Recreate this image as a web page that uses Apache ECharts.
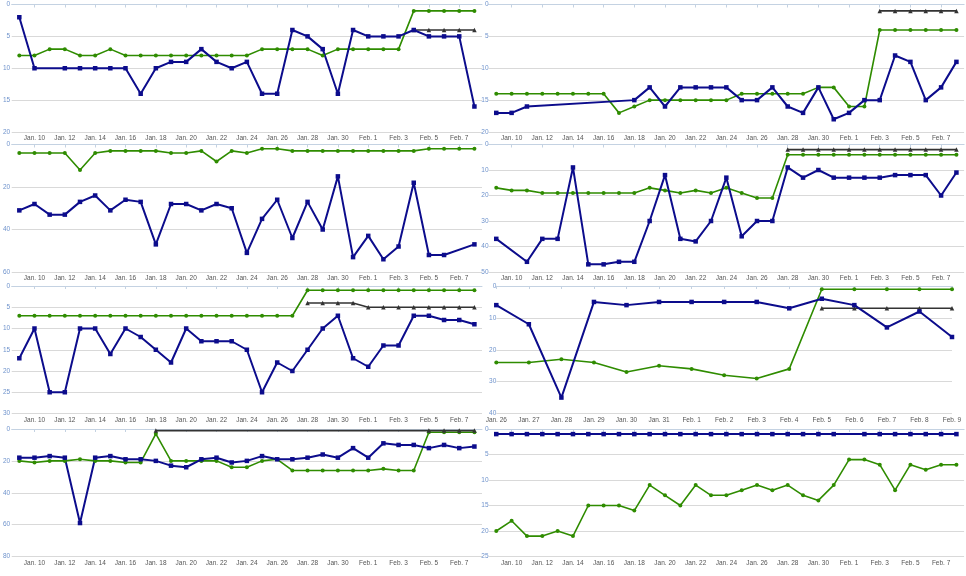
<!DOCTYPE html>
<html>
<head>
<meta charset="utf-8">
<script src="https://cdn.jsdelivr.net/npm/echarts@6/dist/echarts.min.js"></script>
<style>
  html, body { margin: 0; padding: 0; background: #fff; }
  #chart { width: 966px; height: 576px; }
</style>
</head>
<body>
<div id="chart"></div>
<script>
// day labels for the 31-day panels
const days = ['Jan. 9', 'Jan. 10', 'Jan. 11', 'Jan. 12', 'Jan. 13', 'Jan. 14', 'Jan. 15', 'Jan. 16',
    'Jan. 17', 'Jan. 18', 'Jan. 19', 'Jan. 20', 'Jan. 21', 'Jan. 22', 'Jan. 23', 'Jan. 24',
    'Jan. 25', 'Jan. 26', 'Jan. 27', 'Jan. 28', 'Jan. 29', 'Jan. 30', 'Jan. 31', 'Feb. 1',
    'Feb. 2', 'Feb. 3', 'Feb. 4', 'Feb. 5', 'Feb. 6', 'Feb. 7', 'Feb. 8'];
// the short panel (row 3, right)
const shortDays = ['Jan. 26', 'Jan. 27', 'Jan. 28', 'Jan. 29', 'Jan. 30', 'Jan. 31', 'Feb. 1',
    'Feb. 2', 'Feb. 3', 'Feb. 4', 'Feb. 5', 'Feb. 6', 'Feb. 7', 'Feb. 8', 'Feb. 9'];

const n = null;

// panel 1
const p1Blue = [2, 10, n, 10, 10, 10, 10, 10, 14, 10, 9, 9, 7, 9, 10, 9, 14, 14, 4, 5, 7, 14, 4, 5, 5, 5, 4, 5, 5, 5, 16];
const p1Green = [8, 8, 7, 7, 8, 8, 7, 8, 8, 8, 8, 8, 8, 8, 8, 8, 7, 7, 7, 7, 8, 7, 7, 7, 7, 7, 1, 1, 1, 1, 1];
const p1Black = [n, n, n, n, n, n, n, n, n, n, n, n, n, n, n, n, n, n, n, n, n, n, n, n, n, n, 4, 4, 4, 4, 4];

// panel 2
const p2Blue = [17, 17, 16, n, n, n, n, n, n, 15, 13, 16, 13, 13, 13, 13, 15, 15, 13, 16, 17, 13, 18, 17, 15, 15, 8, 9, 15, 13, 9];
const p2Green = [14, 14, 14, 14, 14, 14, 14, 14, 17, 16, 15, 15, 15, 15, 15, 15, 14, 14, 14, 14, 14, 13, 13, 16, 16, 4, 4, 4, 4, 4, 4];
const p2Black = [n, n, n, n, n, n, n, n, n, n, n, n, n, n, n, n, n, n, n, n, n, n, n, n, n, 1, 1, 1, 1, 1, 1];

// panel 3
const p3Blue = [31, 28, 33, 33, 27, 24, 31, 26, 27, 47, 28, 28, 31, 28, 30, 51, 35, 26, 44, 27, 40, 15, 53, 43, 54, 48, 18, 52, 52, n, 47];
const p3Green = [4, 4, 4, 4, 12, 4, 3, 3, 3, 3, 4, 4, 3, 8, 3, 4, 2, 2, 3, 3, 3, 3, 3, 3, 3, 3, 3, 2, 2, 2, 2];

// panel 4
const p4Blue = [37, n, 46, 37, 37, 9, 47, 47, 46, 46, 30, 12, 37, 38, 30, 13, 36, 30, 30, 9, 13, 10, 13, 13, 13, 13, 12, 12, 12, 20, 11];
const p4Green = [17, 18, 18, 19, 19, 19, 19, 19, 19, 19, 17, 18, 19, 18, 19, 17, 19, 21, 21, 4, 4, 4, 4, 4, 4, 4, 4, 4, 4, 4, 4];
const p4Black = [n, n, n, n, n, n, n, n, n, n, n, n, n, n, n, n, n, n, n, 2, 2, 2, 2, 2, 2, 2, 2, 2, 2, 2, 2];

// panel 5
const p5Blue = [17, 10, 25, 25, 10, 10, 16, 10, 12, 15, 18, 10, 13, 13, 13, 15, 25, 18, 20, 15, 10, 7, 17, 19, 14, 14, 7, 7, 8, 8, 9];
const p5Green = [7, 7, 7, 7, 7, 7, 7, 7, 7, 7, 7, 7, 7, 7, 7, 7, 7, 7, 7, 1, 1, 1, 1, 1, 1, 1, 1, 1, 1, 1, 1];
const p5Black = [n, n, n, n, n, n, n, n, n, n, n, n, n, n, n, n, n, n, n, 4, 4, 4, 4, 5, 5, 5, 5, 5, 5, 5, 5];

// panel 6
const p6Blue = [6, 12, 35, 5, 6, 5, 5, 5, 5, 7, 4, 6, 13, 8, 16];
const p6Green = [24, 24, 23, 24, 27, 25, 26, 28, 29, 26, 1, 1, 1, 1, 1];
const p6Black = [n, n, n, n, n, n, n, n, n, n, 7, 7, 7, 7, 7];

// panel 7
const p7Blue = [18, 18, 17, 18, 59, 18, 17, 19, 19, 20, 23, 24, 19, 18, 21, 20, 17, 19, 19, 18, 16, 18, 12, 18, 9, 10, 10, 12, 10, 12, 11];
const p7Green = [20, 21, 20, 20, 19, 20, 20, 21, 21, 3, 20, 20, 20, 20, 24, 24, 20, 19, 26, 26, 26, 26, 26, 26, 25, 26, 26, 2, 2, 2, 2];
const p7Black = [n, n, n, n, n, n, n, n, n, 1, n, n, n, n, n, n, n, n, n, n, n, n, n, n, n, n, n, 1, 1, 1, 1];

// panel 8
const p8Blue = [1, 1, 1, 1, 1, 1, 1, 1, 1, 1, 1, 1, 1, 1, 1, 1, 1, 1, 1, 1, 1, 1, 1, n, 1, 1, 1, 1, 1, 1, 1];
const p8Green = [20, 18, 21, 21, 20, 21, 15, 15, 15, 16, 11, 13, 15, 11, 13, 13, 12, 11, 12, 11, 13, 14, 11, 6, 6, 7, 12, 7, 8, 7, 7];

// y axis max / step per panel
const yMax = [20, 20, 60, 50, 30, 40, 80, 25];
const yStep = [5, 5, 20, 10, 5, 10, 20, 5];

const panels = [
    {cats: days, blue: p1Blue, green: p1Green, black: p1Black},
    {cats: days, blue: p2Blue, green: p2Green, black: p2Black},
    {cats: days, blue: p3Blue, green: p3Green, black: null},
    {cats: days, blue: p4Blue, green: p4Green, black: p4Black},
    {cats: days, blue: p5Blue, green: p5Green, black: p5Black},
    {cats: shortDays, blue: p6Blue, green: p6Green, black: p6Black, short: true},
    {cats: days, blue: p7Blue, green: p7Green, black: p7Black},
    {cats: days, blue: p8Blue, green: p8Green, black: null},
];

const rowTop = [4.5, 144.5, 286, 429];
const rowHeight = 127.5;

const grids = [], xAxes = [], yAxes = [], series = [];

panels.forEach((p, i) => {
    const col = i % 2, row = Math.floor(i / 2);
    let left = col === 0 ? 9 : 488.6;
    let width = col === 0 ? 473 : 475.5;
    if (p.short) { left = 496.3; width = 455.7; }
    grids.push({left, top: rowTop[row], width, height: rowHeight});

    const every = p.short ? 0 : (idx) => idx % 2 === 1;
    xAxes.push({
        type: 'category',
        gridIndex: i,
        data: p.cats,
        boundaryGap: !p.short,
        axisLine: {lineStyle: {color: '#c4d2e2', width: 1}},
        axisTick: {show: true, interval: every, alignWithLabel: true, length: 3, lineStyle: {color: '#c4d2e2'}},
        axisLabel: {interval: every, color: '#555', fontSize: 6.5, margin: 3, fontFamily: 'Liberation Sans'},
        splitLine: {show: false}
    });
    yAxes.push({
        type: 'value',
        gridIndex: i,
        inverse: true,
        min: 0,
        max: yMax[i],
        interval: yStep[i],
        axisLine: {show: false},
        axisTick: {show: false},
        axisLabel: {color: '#6f93cc', fontSize: 6.5, margin: col === 0 ? 1.5 : 0, fontFamily: 'Liberation Sans'},
        splitLine: {lineStyle: {color: '#d9d9d9', width: 1}}
    });

    series.push({
        type: 'line', xAxisIndex: i, yAxisIndex: i, data: p.green,
        connectNulls: true, symbol: 'circle', symbolSize: 4,
        lineStyle: {color: '#2f8c00', width: 1.6},
        itemStyle: {color: '#2f8c00'}
    });
    if (p.black) {
        series.push({
            type: 'line', xAxisIndex: i, yAxisIndex: i, data: p.black,
            connectNulls: true, symbol: 'triangle', symbolSize: 4.5,
            lineStyle: {color: '#333', width: 1.6},
            itemStyle: {color: '#333'}
        });
    }
    series.push({
        type: 'line', xAxisIndex: i, yAxisIndex: i, data: p.blue,
        connectNulls: true, symbol: 'rect', symbolSize: 4.5,
        lineStyle: {color: '#0c0c8c', width: 2},
        itemStyle: {color: '#0c0c8c'}
    });
});

const myChart = echarts.init(document.querySelector('#chart'));
myChart.setOption({
    animation: false,
    grid: grids,
    xAxis: xAxes,
    yAxis: yAxes,
    series
});
</script>
</body>
</html>
